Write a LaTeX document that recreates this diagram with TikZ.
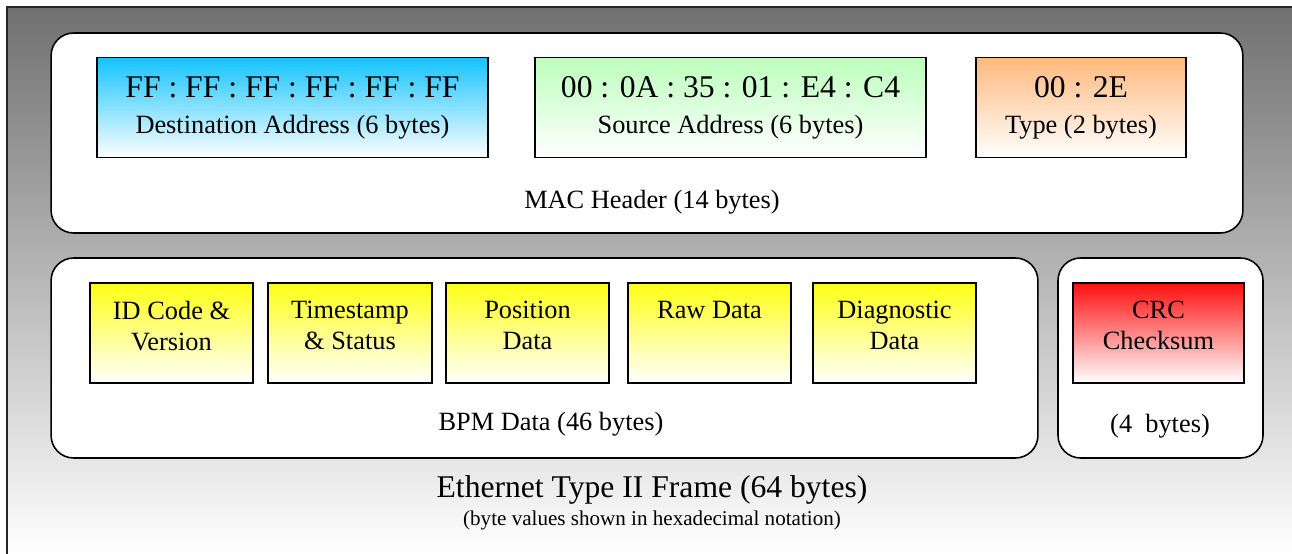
\documentclass[tikz,border=0pt]{standalone}
\usepackage{fontspec}
\setmainfont{Liberation Serif}
\usetikzlibrary{positioning}
\definecolor{DestBlue}{RGB}{20,195,255}
\definecolor{SrcGreen}{RGB}{188,255,188}
\definecolor{TypeOrange}{RGB}{255,185,125}
\definecolor{BpmYellow}{RGB}{255,255,20}
\definecolor{CrcRed}{RGB}{255,15,15}
% pushes the two text lines of a small field towards its top
\newcommand{\toplines}[2]{#1\\#2\\[-9pt]\rule{0pt}{0pt}}

\begin{document}
\begin{tikzpicture}[x=0.02cm, y=-0.02cm,
        groupbox/.style={draw, line width=0.9pt, fill=white, rounded corners=0.45cm,
            minimum height=4cm, inner sep=0pt},
        field/.style={draw, line width=0.9pt, top color=#1, bottom color=white,
            minimum height=2cm, inner sep=0pt, align=center},
        hdrtext/.style={font=\fontsize{15}{20.5}\selectfont},
        datatext/.style={font=\fontsize{15}{17.6}\selectfont},
        bigtext/.style={font=\fontsize{18}{20.5}\selectfont}]
        \useasboundingbox (0,0) rectangle (1292,554);

        % Frame background
        \fill [top color=black!56, middle color=black!26, bottom color=white] (7,7) rectangle (1292,554);
        \draw [line width=1.2pt, black!85] (7,554) -- (7,7) -- (1292,7);

        % MAC header
        \node [groupbox, minimum width=23.84cm] (mac) at (647,133) {};
        \node [field=DestBlue, hdrtext, minimum width=7.82cm] (dest) at (292.5,107.5)
            {{\fontsize{18}{20.5}\selectfont FF : FF : FF : FF : FF : FF}\\Destination Address (6 bytes)};
        \node [field=SrcGreen, hdrtext, minimum width=7.82cm] (src) at (730.5,107.5)
            {{\fontsize{18}{20.5}\selectfont 00 : 0A : 35 : 01 : E4 : C4}\\Source Address (6 bytes)};
        \node [field=TypeOrange, hdrtext, minimum width=4.2cm] (type) at (1081,107.5)
            {{\fontsize{18}{20.5}\selectfont 00 : 2E}\\Type (2 bytes)};
        \node [hdrtext] (maclabel) at (652,202) {MAC Header (14 bytes)};

        % BPM data
        \node [groupbox, minimum width=19.74cm] (bpm) at (544.5,358) {};
        \node [field=BpmYellow, datatext, minimum width=3.26cm] (idcode) at (171.5,333) {\toplines{ID Code \&}{Version}};
        \node [field=BpmYellow, datatext, minimum width=3.28cm] (tstamp) at (350,333) {\toplines{Timestamp}{\& Status}};
        \node [field=BpmYellow, datatext, minimum width=3.26cm] (pos) at (527.5,333) {\toplines{Position}{Data}};
        \node [field=BpmYellow, datatext, minimum width=3.26cm] (raw) at (709.5,333) {\toplines{Raw Data}{\rule{0pt}{0pt}}};
        \node [field=BpmYellow, datatext, minimum width=3.26cm] (diag) at (894.5,333) {\toplines{Diagnostic}{Data}};
        \node [hdrtext] (bpmlabel) at (551,424) {BPM Data (46 bytes)};

        % CRC
        \node [groupbox, minimum width=4.1cm] (crcgroup) at (1160.5,358) {};
        \node [field=CrcRed, datatext, minimum width=3.42cm] (crc) at (1158.5,333) {\toplines{CRC}{Checksum}};
        \node [hdrtext] (crclabel) at (1160,426) {(4\ \ bytes)};

        % Caption
        \node [bigtext] (title) at (652,490) {Ethernet Type II Frame (64 bytes)};
        \node [font=\fontsize{12}{14}\selectfont] (note) at (652,520) {(byte values shown in hexadecimal notation)};
\end{tikzpicture}
\end{document}
